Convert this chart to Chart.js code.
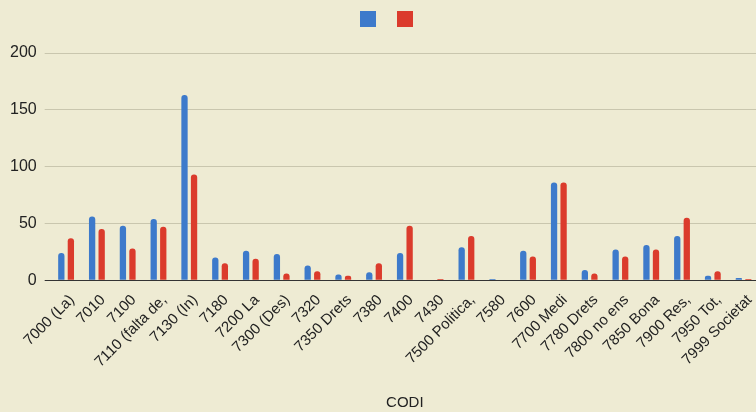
<!DOCTYPE html>
<html>
<head>
<meta charset="utf-8">
<script src="https://cdn.jsdelivr.net/npm/chart.js@4/dist/chart.umd.min.js"></script>
<style>
  html, body { margin: 0; padding: 0; width: 756px; height: 412px; overflow: hidden; background: #eeebd3; }
  #wrap { position: relative; width: 780px; height: 412px; }
</style>
</head>
<body>
<div id="wrap"><canvas id="c"></canvas></div>
<script>
const categories = ["7000 (La)", "7010", "7100", "7110 (falta de,", "7130 (In)", "7180", "7200 La", "7300 (Des)", "7320", "7350 Drets", "7380", "7400", "7430", "7500 Politica,", "7580", "7600", "7700 Medi", "7780 Drets", "7800 no ens", "7850 Bona", "7900 Res,", "7950 Tot,", "7999 Societat"];
const seriesBlue = [24, 56, 48, 54, 163, 20, 26, 23, 13, 5, 7, 24, 0, 29, 1, 26, 86, 9, 27, 31, 39, 4, 2];
const seriesRed  = [37, 45, 28, 47, 93, 15, 19, 6, 8, 4, 15, 48, 1, 39, 0, 21, 86, 6, 21, 27, 55, 8, 1];
const yTicks = [0, 50, 100, 150, 200];
const axisTitle = "CODI";

Chart.defaults.font.family = "'Liberation Sans', Arial, sans-serif";
Chart.defaults.font.size = 15;
Chart.defaults.color = '#222';

const legendAdjust = {
  id: 'legendAdjust',
  beforeInit(chart) {
    const orig = chart.legend.fit;
    chart.legend.fit = function () {
      orig.bind(chart.legend)();
      this.height += 14;
    };
  },
  afterLayout(chart) {
    const lg = chart.legend;
    lg.left += 10; lg.right += 10;
    lg.top -= 2; lg.bottom -= 2;
  }
};

new Chart(document.getElementById('c'), {
  type: 'bar',
  data: {
    labels: categories,
    datasets: [
      { label: '', data: seriesBlue, backgroundColor: '#3d7acb', borderWidth: 0,
        borderRadius: { topLeft: 3, topRight: 3 }, borderSkipped: 'bottom',
        categoryPercentage: 0.62, barPercentage: 0.66 },
      { label: '', data: seriesRed, backgroundColor: '#db3b2c', borderWidth: 0,
        borderRadius: { topLeft: 3, topRight: 3 }, borderSkipped: 'bottom',
        categoryPercentage: 0.62, barPercentage: 0.66 }
    ]
  },
  options: {
    responsive: true,
    maintainAspectRatio: false,
    animation: false,
    layout: { padding: { left: 2, right: 21, top: 0, bottom: 0 } },
    plugins: {
      legend: {
        position: 'top',
        labels: { boxWidth: 16, boxHeight: 16, padding: 13, font: { size: 16 } }
      },
      tooltip: { enabled: false }
    },
    scales: {
      x: {
        grid: { display: false, drawTicks: false },
        border: { display: false },
        ticks: { autoSkip: false, minRotation: 45, maxRotation: 45, padding: 11, labelOffset: 6, color: '#222' },
        title: { display: true, text: axisTitle, color: '#222', font: { size: 15 }, padding: { top: 12, bottom: 0 } }
      },
      y: {
        min: 0, max: 200,
        afterBuildTicks(axis) { axis.ticks = yTicks.map(v => ({ value: v })); },
        grid: {
          color: ctx => (ctx.tick && ctx.tick.value === 0) ? '#333333' : '#c9c6ae',
          lineWidth: 1,
          drawTicks: true,
          tickLength: 6
        },
        border: { display: false },
        ticks: { padding: 8, color: '#222', font: { size: 16 } }
      }
    }
  },
  plugins: [legendAdjust]
});
</script>
</body>
</html>
